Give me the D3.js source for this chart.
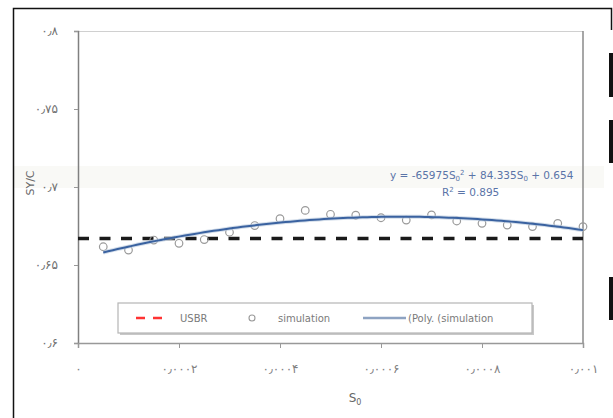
<!DOCTYPE html>
<html>
<head>
<meta charset="utf-8">
<script src="https://cdn.jsdelivr.net/npm/d3@7"></script>
<style>
  html, body { margin: 0; padding: 0; background: #fff; }
  svg { display: block; }
  text { font-family: "DejaVu Sans", "Noto Sans", sans-serif; }
</style>
</head>
<body>
<svg id="chart" width="613" height="418"></svg>
<script>
// Simulated S0 values and the corresponding ratio
const s0Values = [0.00005, 0.0001, 0.00015, 0.0002, 0.00025, 0.0003, 0.00035, 0.0004, 0.00045, 0.0005,
                  0.00055, 0.0006, 0.00065, 0.0007, 0.00075, 0.0008, 0.00085, 0.0009, 0.00095, 0.001];
const simValues = [0.6617, 0.6596, 0.6660, 0.6639, 0.6663, 0.6710, 0.6753, 0.6797, 0.6850, 0.6825,
                   0.6819, 0.6803, 0.6788, 0.6821, 0.6782, 0.6767, 0.6756, 0.6746, 0.6767, 0.6746];
// USBR reference value
const usbrValue = 0.667;
// Second-order polynomial trend: a*S0^2 + b*S0 + c
const polyCoef = [-65975, 84.335, 0.654];
const rSquared = 0.895;

// Axis ticks and their Persian labels
const yTicks = [0.6, 0.65, 0.7, 0.75, 0.8];
const yTickLabels = ["۰٫۶", "۰٫۶۵", "۰٫۷", "۰٫۷۵", "۰٫۸"];
const xTicks = [0, 0.0002, 0.0004, 0.0006, 0.0008, 0.001];
const xTickLabels = ["۰", "۰٫۰۰۰۲", "۰٫۰۰۰۴", "۰٫۰۰۰۶", "۰٫۰۰۰۸", "۰٫۰۰۱"];

const svg = d3.select("#chart");
const plot = { left: 78, right: 583, top: 31, bottom: 343 };

const x = d3.scaleLinear().domain([0, 0.001]).range([plot.left, plot.right]);
const y = d3.scaleLinear().domain([0.6, 0.8]).range([plot.bottom, plot.top]);

// Faint horizontal band behind the equation row
svg.append("rect").attr("x", 14).attr("y", 166).attr("width", 590).attr("height", 22)
  .attr("fill", "#f9f9f6");

// Outer frame
svg.append("path")
  .attr("d", "M13.5,418 L13.5,8.5 L611.5,8.5 L611.5,30")
  .attr("fill", "none").attr("stroke", "#111").attr("stroke-width", 1.5);
// Side marks on the right edge
[[53, 97], [120, 163], [277, 320]].forEach(([a, b]) => {
  svg.append("rect").attr("x", 609).attr("y", a).attr("width", 4).attr("height", b - a).attr("fill", "#111");
});

// Plot frame: top and right borders
svg.append("line").attr("x1", plot.left).attr("x2", plot.right).attr("y1", plot.top + 0.5).attr("y2", plot.top + 0.5)
  .attr("stroke", "#d0d0d0").attr("stroke-width", 1);
svg.append("line").attr("x1", plot.right).attr("x2", plot.right).attr("y1", plot.top).attr("y2", plot.bottom)
  .attr("stroke", "#8a8a8a").attr("stroke-width", 1.5);

// Y axis
const yAxis = d3.axisLeft(y).tickValues(yTicks).tickSize(4).tickPadding(16)
  .tickFormat((d, i) => yTickLabels[i]);
const gy = svg.append("g").attr("transform", `translate(${plot.left},0)`).call(yAxis);
gy.select(".domain").attr("stroke", "#808080").attr("stroke-width", 1.5);
gy.selectAll(".tick line").attr("stroke", "#999");
gy.selectAll(".tick text").attr("fill", "#707070").attr("font-size", 12);

// X axis
const xAxis = d3.axisBottom(x).tickValues(xTicks).tickSize(5).tickPadding(16)
  .tickFormat((d, i) => xTickLabels[i]);
const gx = svg.append("g").attr("transform", `translate(0,${plot.bottom})`).call(xAxis);
gx.select(".domain").attr("stroke", "#999").attr("stroke-width", 1.5);
gx.selectAll(".tick line").attr("stroke", "#999");
gx.selectAll(".tick text").attr("fill", "#808080").attr("font-size", 12);

// Axis titles
svg.append("text").attr("x", 355).attr("y", 402).attr("text-anchor", "middle")
  .attr("fill", "#666").attr("font-size", 12).attr("font-family", "Liberation Serif, serif")
  .text("S").append("tspan").attr("font-size", 8).attr("dy", 3).text("0");
svg.append("text").attr("transform", "translate(34,183) rotate(-90)").attr("text-anchor", "middle")
  .attr("fill", "#666").attr("font-size", 11).attr("font-family", "Liberation Serif, serif")
  .text("SY/C");

// USBR dashed line
svg.append("line")
  .attr("x1", x(0)).attr("x2", x(0.001)).attr("y1", y(usbrValue)).attr("y2", y(usbrValue))
  .attr("stroke", "#1a1a1a").attr("stroke-width", 3.5).attr("stroke-dasharray", "11,10.5");

// Simulation points
svg.append("g").selectAll("circle").data(s0Values).join("circle")
  .attr("cx", d => x(d)).attr("cy", (d, i) => y(simValues[i])).attr("r", 3.8)
  .attr("fill", "none").attr("stroke", "#9a9a9a").attr("stroke-width", 1.2);

// Polynomial trend line
const poly = s => polyCoef[0] * s * s + polyCoef[1] * s + polyCoef[2];
const trendS = d3.range(0, 101).map(i => s0Values[0] + (s0Values[s0Values.length - 1] - s0Values[0]) * i / 100);
svg.append("path").datum(trendS)
  .attr("d", d3.line().x(d => x(d)).y(d => y(poly(d))))
  .attr("fill", "none").attr("stroke", "#b8c8dc").attr("stroke-width", 4).attr("opacity", 0.6);
svg.append("path").datum(trendS)
  .attr("d", d3.line().x(d => x(d)).y(d => y(poly(d))))
  .attr("fill", "none").attr("stroke", "#3a62a0").attr("stroke-width", 2);

// Trend equation
const eq = svg.append("text").attr("x", 390).attr("y", 179).attr("fill", "#5a74a8")
  .attr("font-size", 10.5).attr("font-family", "Liberation Serif, serif");
eq.append("tspan").text(`y = ${polyCoef[0]}S`);
eq.append("tspan").attr("font-size", 7).attr("dy", 2).text("0");
eq.append("tspan").attr("font-size", 7).attr("dy", -6).text("2");
eq.append("tspan").attr("dy", 4).text(` + ${polyCoef[1]}S`);
eq.append("tspan").attr("font-size", 7).attr("dy", 2).text("0");
eq.append("tspan").attr("dy", -2).text(` + ${polyCoef[2]}`);
const r2 = svg.append("text").attr("x", 442).attr("y", 196).attr("fill", "#5a74a8")
  .attr("font-size", 10.5).attr("font-family", "Liberation Serif, serif");
r2.append("tspan").text("R");
r2.append("tspan").attr("font-size", 7).attr("dy", -4).text("2");
r2.append("tspan").attr("dy", 4).text(` = ${rSquared}`);

// Legend
const lg = svg.append("g");
lg.append("rect").attr("x", 120).attr("y", 305).attr("width", 414).attr("height", 30).attr("fill", "#c8c8c8");
lg.append("rect").attr("x", 118).attr("y", 303).attr("width", 414).attr("height", 30)
  .attr("fill", "#fff").attr("stroke", "#b5b5b5").attr("stroke-width", 1.2);
lg.append("line").attr("x1", 136).attr("x2", 170).attr("y1", 318).attr("y2", 318)
  .attr("stroke", "#ff3333").attr("stroke-width", 2.5).attr("stroke-dasharray", "9,8");
lg.append("text").attr("x", 180).attr("y", 322).attr("fill", "#7a7a7a").attr("font-size", 10).text("USBR");
lg.append("circle").attr("cx", 252).attr("cy", 318).attr("r", 3)
  .attr("fill", "none").attr("stroke", "#9a9a9a").attr("stroke-width", 1.1);
lg.append("text").attr("x", 278).attr("y", 322).attr("fill", "#7a7a7a").attr("font-size", 10).text("simulation");
lg.append("line").attr("x1", 363).attr("x2", 406).attr("y1", 318).attr("y2", 318)
  .attr("stroke", "#8ea3c2").attr("stroke-width", 2.5);
lg.append("text").attr("x", 408).attr("y", 322).attr("fill", "#7a7a7a").attr("font-size", 10).text("(Poly. (simulation");
</script>
</body>
</html>
